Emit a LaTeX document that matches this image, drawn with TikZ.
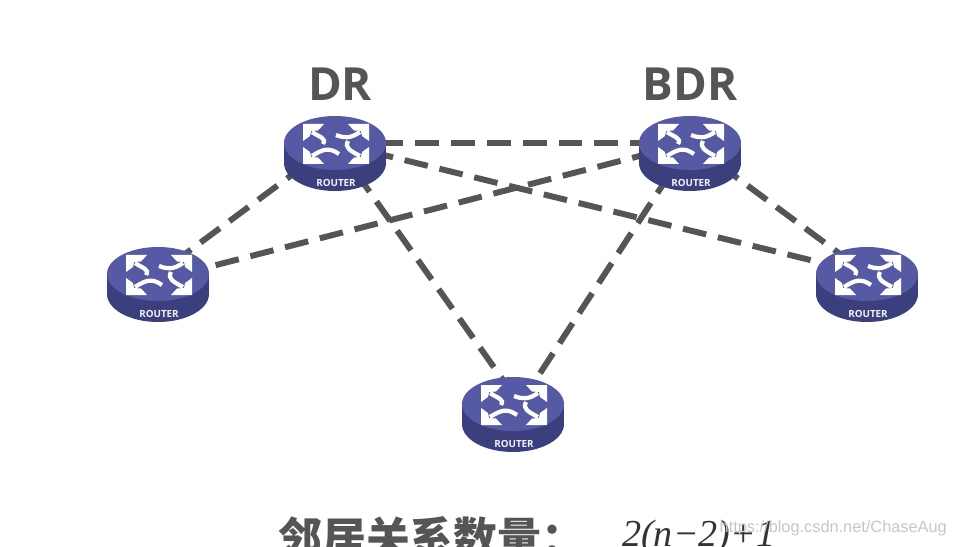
\documentclass[tikz,border=0pt]{standalone}
\usepackage{fontspec}
\setsansfont{Open Sans}
\newfontfamily\cjk{Noto Sans CJK SC}
\newfontfamily\formulafont{Liberation Serif}
\newfontfamily\markfont{Liberation Sans}
\definecolor{routertop}{HTML}{5659A3}
\definecolor{routerside}{HTML}{3C3F7E}
\definecolor{linkgray}{HTML}{555555}
\tikzset{link/.style = {line width = 3.4pt, draw = linkgray, dash pattern = on 13.6pt off 6.8pt}}
\tikzset{spot/.style = {coordinate}}
\tikzset{stem/.style = {white, line width = 2.4pt}}
\tikzset{rolelabel/.style = {font = \sffamily\bfseries\fontsize{26}{26}\selectfont, text = linkgray}}
\tikzset{router/.pic = {
  \fill[routerside] (0,20) ellipse [x radius = 51, y radius = 28];
  \fill[routerside] (-51,0) rectangle (51,20);
  \fill[routertop] (0,0) ellipse [x radius = 51, y radius = 27];
  \begin{scope}[shift = {(1,1)}]
  \foreach \sx/\sy in {-1/-1, 1/-1, -1/1, 1/1}{
    \fill[white, xscale = \sx, yscale = \sy] (33,20) -- (12,20) -- (18,13.5) -- (25,13) -- (26,8) -- (33,3) -- cycle;
  }
  \draw[stem] (24,-12) .. controls (14,-5) and (8,-6) .. (0,-9);
  \draw[stem] (-24,-12) .. controls (-17,-7) and (-9,-6) .. (-13,0);
  \draw[stem] (-24,12) .. controls (-13,5) and (-7,3) .. (3,10);
  \draw[stem] (24,12) .. controls (15,7) and (8,4) .. (12,-3);
  \end{scope}
  \node[text = white!92!routertop, font = \sffamily\bfseries\fontsize{5.6}{5.6}\selectfont] at (1,40) {ROUTER};
}}

\begin{document}
\begin{tikzpicture}[x = 0.02cm, y = -0.02cm]
\useasboundingbox (0,0) rectangle (960,547);
\clip (0,0) rectangle (960,547);
\fill[white] (0,0) rectangle (960,547);
\node[spot] (dr) at (335,143) {};
\node[spot] (bdr) at (690,143) {};
\node[spot] (left) at (158,274) {};
\node[spot] (leftin) at (158,280) {};
\node[spot] (right) at (867,274) {};
\node[spot] (bottom) at (513,404) {};
\node[spot] (bottomin) at (520,404) {};
\draw[link] (bdr) -- (dr);
\draw[link] (dr) -- (left);
\draw[link] (dr) -- (right);
\draw[link] (dr) -- (bottomin);
\draw[link] (bdr) -- (leftin);
\draw[link] (bdr) -- (right);
\draw[link] (bdr) -- (bottomin);
\foreach \r in {dr, bdr, left, right, bottom}{
  \pic at (\r) {router};
}
\node[rolelabel] (drlabel) at (340,84) {DR};
\node[rolelabel] (bdrlabel) at (690,84) {BDR};
\node[font = \cjk\bfseries\fontsize{25}{25}\selectfont, text = linkgray, anchor = west] (count) at (272,538) {邻居关系数量：};
\node[font = \formulafont\itshape\fontsize{21.7}{21.7}\selectfont, text = black!80, anchor = west] (formula) at (616,537) {2(n−2)+1};
\node[font = \markfont\fontsize{9.3}{9.3}\selectfont, text = black!22, anchor = east] (mark) at (953,528) {https://blog.csdn.net/ChaseAug};
\end{tikzpicture}
\end{document}
